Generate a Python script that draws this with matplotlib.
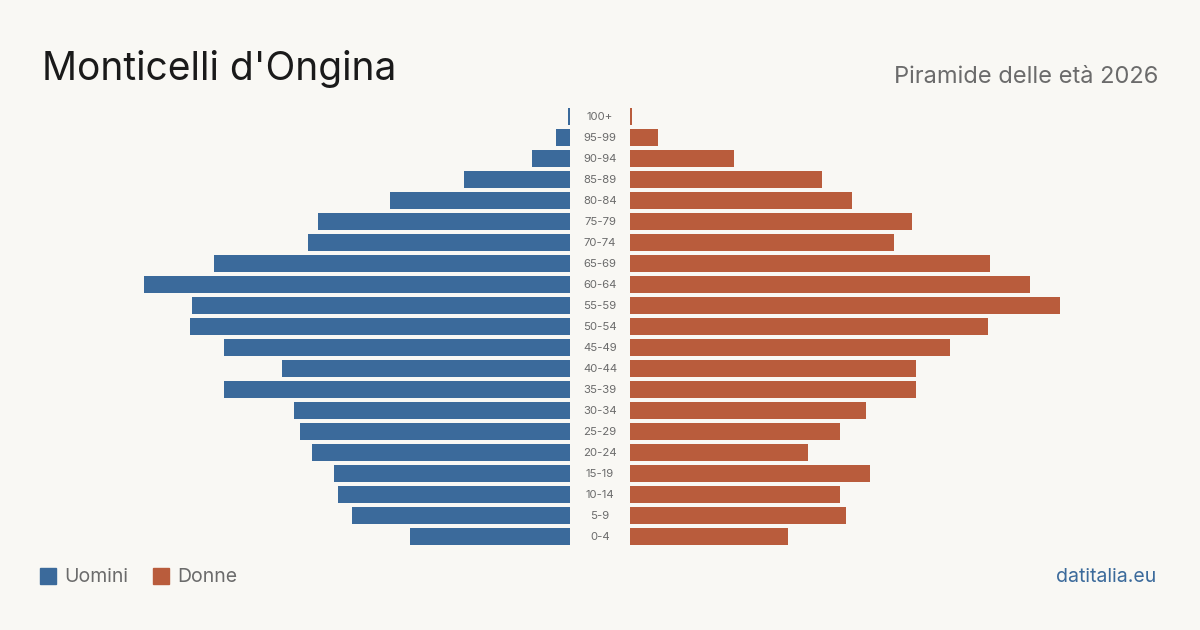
import matplotlib.pyplot as plt
import numpy as np

plt.rcParams['font.family'] = ['Inter', 'DejaVu Sans']

ages = ['0-4', '5-9', '10-14', '15-19', '20-24', '25-29', '30-34', '35-39',
        '40-44', '45-49', '50-54', '55-59', '60-64', '65-69', '70-74',
        '75-79', '80-84', '85-89', '90-94', '95-99', '100+']
uomini = [80, 109, 116, 118, 129, 135, 138, 173, 144, 173, 190, 189, 213,
          178, 131, 126, 90, 53, 19, 7, 1]
donne = [79, 108, 105, 120, 89, 105, 118, 143, 143, 160, 179, 215, 200,
         180, 132, 141, 111, 96, 52, 14, 1]

bg = '#f9f8f4'
blue = '#3b6a9b'
red = '#b95c3c'
grey = '#6b6b6b'

W, H = 1200, 630
fig = plt.figure(figsize=(12, 6.3), dpi=100, facecolor=bg)

y = np.arange(len(ages))
bot = (H - 547) / H
hgt = 441 / H
ax_l = fig.add_axes([0, bot, 570 / W, hgt])
ax_r = fig.add_axes([630 / W, bot, 570 / W, hgt])

for ax in (ax_l, ax_r):
    ax.set_facecolor('none')
    ax.set_ylim(-0.5, len(ages) - 0.5)
    ax.axis('off')

ax_l.barh(y, uomini, height=0.81, color=blue)
ax_l.set_xlim(285, 0)
ax_r.barh(y, donne, height=0.81, color=red)
ax_r.set_xlim(0, 285)

# age labels in the gap
for i, a in enumerate(ages):
    ax_r.text(-30 / 2, i - 0.03, a, ha='center', va='center', fontsize=8.2,
              color=grey, clip_on=False)

fig.text(42 / W, 1 - 69 / H, "Monticelli d'Ongina", fontsize=28,
         color='#1a1a1a', va='center', ha='left')
fig.text(1158 / W, 1 - 77 / H, 'Piramide delle età 2026', fontsize=17,
         color=grey, va='center', ha='right')

# legend
for x0, lab, c in [(40, 'Uomini', blue), (153, 'Donne', red)]:
    fig.patches.append(plt.Rectangle((x0 / W, 1 - 584 / H), 16 / W, 16 / H,
                                     transform=fig.transFigure, color=c))
    fig.text((x0 + 24) / W, 1 - 577 / H, lab, fontsize=14, color=grey,
             va='center', ha='left')

fig.text(1156 / W, 1 - 577 / H, 'datitalia.eu', fontsize=14, color=blue,
         va='center', ha='right')

fig.savefig('out.png', dpi=100, facecolor=bg)
